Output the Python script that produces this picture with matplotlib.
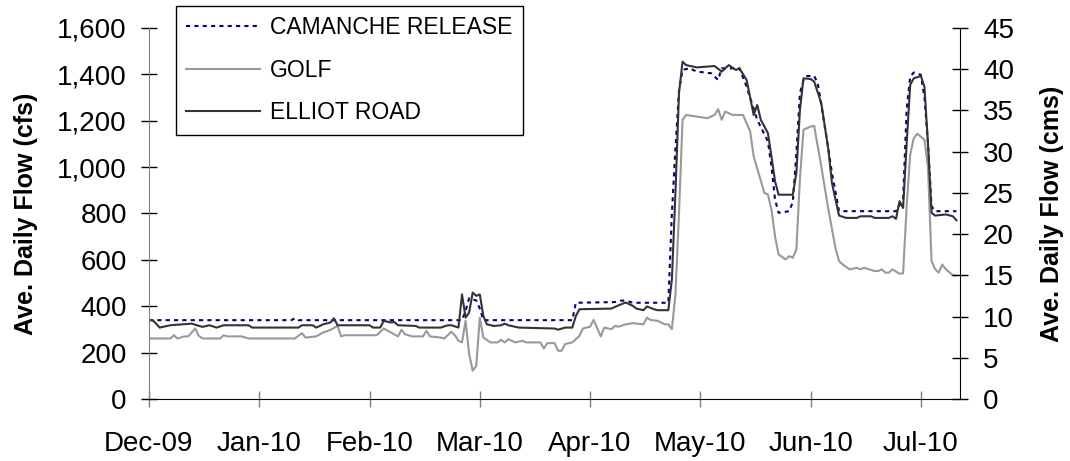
import matplotlib
matplotlib.use("Agg")
import matplotlib.pyplot as plt
from matplotlib.ticker import FuncFormatter

plt.rcParams['font.family'] = ['Liberation Sans', 'DejaVu Sans']

# days counted from 1 Dec 2009, flow in cfs
camanche_days = [0, 40, 41, 42, 88, 89, 90, 91, 92, 93, 94, 119, 120, 131, 133, 135, 136,
                 146, 147, 148, 149, 150, 152, 154, 158, 160, 161, 166, 168, 171, 174, 175,
                 176, 177, 180, 181, 182, 183, 184, 185, 187, 188, 190, 192, 194, 210, 212,
                 213, 214, 215, 217, 218, 219, 220, 221, 227]
camanche_cfs = [340, 340, 348, 340, 340, 380, 435, 430, 425, 390, 340, 340, 415, 418, 425, 420, 415,
                415, 800, 1080, 1330, 1420, 1426, 1412, 1405, 1376, 1426, 1426, 1347, 1204, 1111, 1003,
                860, 803, 810, 850, 1061, 1319, 1376, 1393, 1393, 1362, 1175, 975, 810, 810, 860,
                1247, 1390, 1408, 1398, 1300, 1104, 831, 810, 810]

golf_days = [0, 6, 7, 8, 10, 11, 13, 14, 15, 20, 21, 22, 26, 28, 41, 43, 44, 47, 49, 51, 53, 54,
             55, 64, 66, 68, 70, 71, 72, 74, 77, 78, 79, 82, 83, 85, 86, 87, 88, 89, 90, 91, 92,
             93, 94, 96, 98, 99, 100, 101, 103, 105, 106, 110, 111, 112, 114, 115, 116, 117, 119,
             121, 122, 124, 125, 127, 128, 130, 131, 132, 134, 136, 139, 140, 141, 143, 145, 146,
             147, 148, 149, 150, 151, 154, 157, 159, 160, 161, 162, 164, 167, 169, 170, 173, 174,
             175, 176, 177, 179, 180, 181, 182, 183, 184, 186, 187, 189, 191, 193, 194, 195, 197,
             199, 200, 201, 204, 205, 206, 207, 208, 209, 211, 212, 213, 214, 215, 216, 218, 219,
             220, 221, 222, 223, 224, 226, 227]
golf_cfs = [261, 261, 275, 261, 270, 270, 304, 273, 261, 261, 275, 270, 270, 261, 261, 284, 265, 270,
            287, 298, 315, 270, 275, 275, 304, 287, 270, 298, 279, 270, 270, 294, 270, 265, 261, 290,
            275, 251, 244, 337, 194, 122, 143, 351, 265, 244, 244, 255, 244, 258, 244, 251, 244, 244,
            218, 241, 241, 208, 208, 237, 244, 272, 304, 312, 341, 270, 308, 301, 315, 312, 322, 327,
            322, 351, 341, 337, 322, 322, 301, 450, 800, 1204, 1225, 1218, 1211, 1225, 1250, 1204,
            1240, 1225, 1225, 1154, 1046, 889, 882, 817, 702, 623, 602, 616, 609, 645, 950, 1161,
            1175, 1178, 1003, 817, 650, 595, 580, 559, 566, 559, 566, 552, 552, 559, 545, 545, 559,
            540, 542, 830, 1054, 1125, 1144, 1118, 1000, 595, 560, 545, 580, 560, 533, 533]

elliot_days = [0, 1, 2, 3, 6, 12, 15, 17, 19, 21, 28, 29, 42, 43, 46, 47, 49, 51, 52, 53, 62, 63,
               65, 66, 68, 69, 70, 75, 76, 82, 84, 85, 87, 88, 89, 90, 91, 92, 93, 94, 95, 97, 99,
               100, 101, 104, 114, 115, 117, 119, 120, 121, 130, 132, 134, 136, 137, 139, 140, 142,
               143, 146, 147, 148, 149, 150, 151, 154, 159, 161, 163, 165, 166, 168, 170, 171, 172,
               174, 175, 176, 177, 181, 182, 183, 184, 186, 187, 189, 191, 192, 193, 194, 196, 199,
               200, 203, 204, 208, 209, 210, 211, 212, 213, 214, 215, 217, 218, 219, 220, 221, 224,
               226, 227]
elliot_cfs = [340, 340, 325, 308, 318, 325, 311, 318, 308, 318, 318, 308, 308, 318, 318, 308, 322,
              330, 348, 318, 318, 308, 308, 337, 330, 332, 318, 315, 308, 308, 318, 318, 308, 451,
              351, 373, 459, 445, 451, 358, 322, 315, 318, 325, 318, 308, 304, 299, 308, 308, 358,
              387, 390, 404, 416, 402, 390, 383, 399, 387, 383, 383, 516, 889, 1319, 1455, 1440,
              1430, 1436, 1412, 1440, 1419, 1426, 1376, 1225, 1268, 1204, 1147, 1046, 939, 881, 881,
              975, 1247, 1383, 1380, 1369, 1276, 1075, 932, 860, 791, 781, 781, 788, 788, 781, 781,
              788, 777, 853, 824, 1100, 1355, 1383, 1393, 1347, 1100, 803, 791, 796, 788, 771]

month_ticks = [0, 31, 62, 93, 124, 155, 186, 217]
month_labels = ['Dec-09', 'Jan-10', 'Feb-10', 'Mar-10', 'Apr-10', 'May-10', 'Jun-10', 'Jul-10']

fig = plt.figure(figsize=(10.7, 4.61), dpi=100)
ax = fig.add_axes([149 / 1070, 1 - 399 / 461, 811 / 1070, 371 / 461])

ax.plot(camanche_days, camanche_cfs, color='#000080', lw=1.5, dashes=(2, 2), label='CAMANCHE RELEASE')
ax.plot(golf_days, golf_cfs, color='#999999', lw=1.5, label='GOLF')
ax.plot(elliot_days, elliot_cfs, color='#333333', lw=1.5, label='ELLIOT ROAD')

ax.set_xlim(0, 228)
ax.set_ylim(0, 1600)
ax.set_yticks(range(0, 1601, 200))
ax.yaxis.set_major_formatter(FuncFormatter(lambda v, p: '{:,.0f}'.format(v)))
ax.set_xticks(month_ticks)
ax.set_xticklabels(month_labels)

ax.spines['top'].set_visible(False)
ax.spines['right'].set_visible(False)
ax.spines['left'].set_color('#808080')
ax.spines['bottom'].set_color('black')
ax.tick_params(axis='y', direction='inout', length=12, width=1, labelsize=20, pad=10)
ax.tick_params(axis='x', direction='inout', length=12, width=1, color='#808080', labelsize=20, pad=17)
ax.set_ylabel('Ave. Daily Flow (cfs)', fontsize=18, fontweight='bold', labelpad=14)

ax2 = ax.twinx()
ax2.set_ylim(0, 45)
ax2.set_yticks(range(0, 46, 5))
for s in ['top', 'left', 'bottom']:
    ax2.spines[s].set_visible(False)
ax2.spines['right'].set_color('black')
ax2.tick_params(axis='y', direction='inout', length=12, width=1, labelsize=20, pad=10.5)
ax2.set_ylabel('Ave. Daily Flow (cms)', fontsize=18, fontweight='bold', labelpad=19)

leg = ax.legend(loc='upper left', bbox_to_anchor=(176 / 1070, 1 - 6 / 461),
                bbox_transform=fig.transFigure, borderaxespad=0, fontsize=16.5,
                handlelength=3.2, handletextpad=0.45, labelspacing=0.85, borderpad=0.45,
                fancybox=False, framealpha=1)
leg.get_frame().set_edgecolor('black')
leg.get_frame().set_linewidth(1)

fig.savefig('out.png', dpi=100)
